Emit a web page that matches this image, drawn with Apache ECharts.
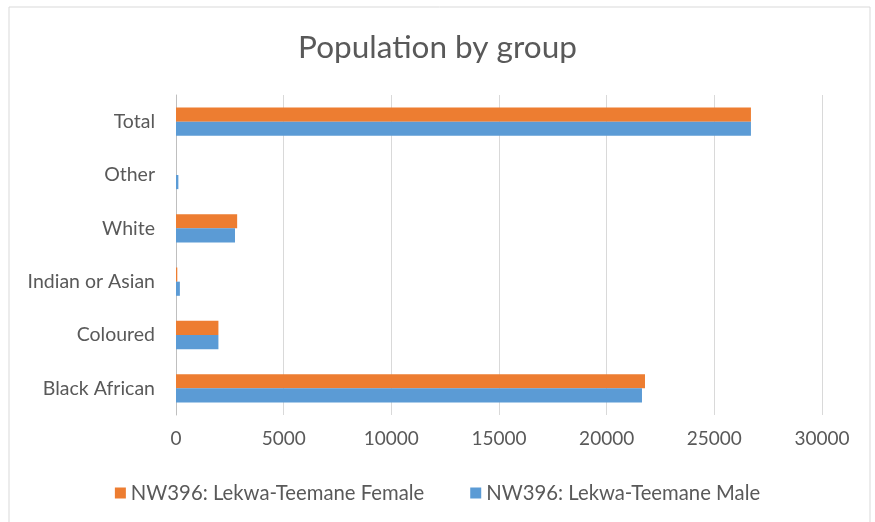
<!DOCTYPE html>
<html>
<head>
<meta charset="utf-8">
<script src="https://cdn.jsdelivr.net/npm/echarts@6/dist/echarts.min.js"></script>
<style>
  html, body { margin: 0; padding: 0; background: #fff; }
  #chart { width: 875px; height: 522px; }
</style>
</head>
<body>
<div id="chart"></div>
<script>
// categories, bottom to top
var categories = ['Black African', 'Coloured', 'Indian or Asian', 'White', 'Other', 'Total'];
var femaleValues = [21780, 1970, 60, 2840, 0, 26700];
var maleValues = [21640, 1970, 180, 2740, 110, 26700];
var seriesNames = ['NW396: Lekwa-Teemane Female', 'NW396: Lekwa-Teemane Male'];

var textColor = '#595959';
var font = 'Lato';

var chart = echarts.init(document.getElementById('chart'));
chart.setOption({
    animation: false,
    textStyle: { fontFamily: font },
    graphic: [{
        type: 'rect',
        shape: { x: 9, y: 7, width: 861, height: 530 },
        style: { fill: 'none', stroke: '#d9d9d9', lineWidth: 1 },
        z: -1
    }],
    title: {
        text: 'Population by group',
        left: 'center',
        top: 27,
        textStyle: { fontFamily: font, fontSize: 31.5, fontWeight: 'normal', color: textColor }
    },
    legend: {
        data: seriesNames,
        top: 478,
        left: 'center',
        itemWidth: 11,
        itemHeight: 11,
        itemGap: 46,
        icon: 'rect',
        textStyle: { fontFamily: font, fontSize: 20.3, color: textColor }
    },
    grid: { left: 176, right: 53, top: 95, bottom: 107 },
    xAxis: {
        type: 'value',
        min: 0,
        max: 30000,
        interval: 5000,
        axisLine: { show: false },
        axisTick: { show: false },
        axisLabel: {
            fontFamily: font, fontSize: 19, color: textColor, margin: 14,
            formatter: function (v) { return String(v); }
        },
        splitLine: { lineStyle: { color: '#d9d9d9' } }
    },
    yAxis: {
        type: 'category',
        data: categories,
        axisLine: { lineStyle: { color: '#bfbfbf' } },
        axisTick: { show: false },
        axisLabel: { fontFamily: font, fontSize: 19.5, color: textColor, margin: 21 }
    },
    series: [
        {
            name: seriesNames[0],
            type: 'bar',
            data: femaleValues,
            itemStyle: { color: '#ED7D31' },
            barGap: '0%',
            barCategoryGap: '47%'
        },
        {
            name: seriesNames[1],
            type: 'bar',
            data: maleValues,
            itemStyle: { color: '#5B9BD5' },
            barGap: '0%',
            barCategoryGap: '47%'
        }
    ]
});
</script>
</body>
</html>
